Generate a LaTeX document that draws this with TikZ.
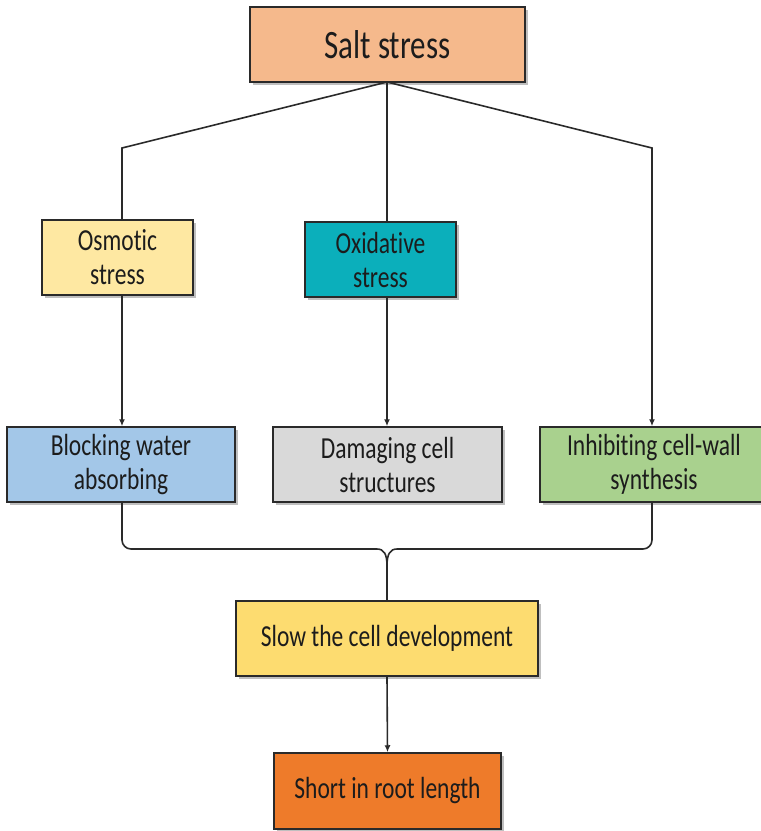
\documentclass[tikz,border=0pt]{standalone}
\usepackage{fontspec}
\usepackage{graphicx}
\setmainfont[Ligatures={NoCommon}]{Carlito}
\usetikzlibrary{arrows.meta,shadows}
\definecolor{cSalt}{HTML}{F5B98C}
\definecolor{cOsm}{HTML}{FEE8A2}
\definecolor{cOxi}{HTML}{0BAFBB}
\definecolor{cBlock}{HTML}{A3C7E8}
\definecolor{cDam}{HTML}{D9D9D9}
\definecolor{cInh}{HTML}{A9D18E}
\definecolor{cSlow}{HTML}{FDDC70}
\definecolor{cShort}{HTML}{EE7B2A}
\definecolor{cLine}{HTML}{2A2A2A}
\definecolor{cText}{HTML}{1C1C1C}
\newcommand{\vs}[1]{\scalebox{1}[1.3]{#1}}
\tikzset{
  box/.style={draw=cLine, line width=1.5pt, inner sep=0pt, align=center,
    text=cText, font=\fontsize{23.5}{34}\selectfont,
    drop shadow={shadow xshift=2.5pt, shadow yshift=-2.5pt, opacity=0.25, fill=black}},
  conn/.style={draw=cLine, line width=1.6pt},
  arr/.style={conn, -{Latex[length=7pt,width=6pt]}}
}
\begin{document}
\begin{tikzpicture}[x=1pt,y=-1pt]
\useasboundingbox (0,0) rectangle (761,831);
\clip (0,0) rectangle (761,831);
\node[box, fill=cSalt, minimum width=275pt, minimum height=75pt,
  font=\fontsize{31}{36}\selectfont] (salt) at (387.5,44.5) {\vs{Salt stress}};
\node[box, fill=cOsm, minimum width=151pt, minimum height=75pt] (osm) at (117.5,257.5) {\vs{Osmotic}\\\vs{stress}};
\node[box, fill=cOxi, minimum width=151pt, minimum height=75pt] (oxi) at (380.5,259.5) {\vs{Oxidative}\\\vs{stress}};
\node[box, fill=cBlock, minimum width=228pt, minimum height=75pt] (block) at (121,464.5) {\vs{Blocking water}\\\vs{absorbing}};
\node[box, fill=cDam, minimum width=229pt, minimum height=75pt] (dam) at (387.5,464.5) {\vs{Damaging cell}\\\vs{structures}};
\node[box, fill=cInh, minimum width=228pt, minimum height=75pt] (inh) at (654,464.5) {\vs{Inhibiting cell-wall}\\\vs{synthesis}};
\node[box, fill=cSlow, minimum width=302pt, minimum height=75pt] (slow) at (387,638.5) {\vs{Slow the cell development}};
\node[box, fill=cShort, minimum width=227pt, minimum height=76pt] (short) at (387.5,791) {\vs{Short in root length}};

\coordinate (jl) at (122,148);
\coordinate (jr) at (652,148);
\coordinate (jc) at (387,82);
\coordinate (tip) at (387,566);

% from salt stress
\draw[conn] (jc) -- (jl) -- (jl |- osm.north);
\draw[conn] (jc) -- (jc |- oxi.north);
\draw[arr] (jc) -- (jr) -- (jr |- inh.north);
% second level
\draw[arr] (jl |- osm.south) -- (jl |- block.north);
\draw[arr] (jc |- oxi.south) -- (jc |- dam.north);
% brace
\draw[conn] (jl |- block.south) -- (122,540) arc[start angle=180, end angle=90, x radius=9pt, y radius=-9pt]
  -- (377,549) .. controls (384,549) and (387,554) .. (tip);
\draw[conn] (jr |- inh.south) -- (652,540) arc[start angle=0, end angle=90, x radius=9pt, y radius=-9pt]
  -- (397,549) .. controls (390,549) and (387,554) .. (tip);
\draw[conn] (tip) -- (slow.north);
\draw[arr] (slow.south) -- (short.north);
\end{tikzpicture}
\end{document}
